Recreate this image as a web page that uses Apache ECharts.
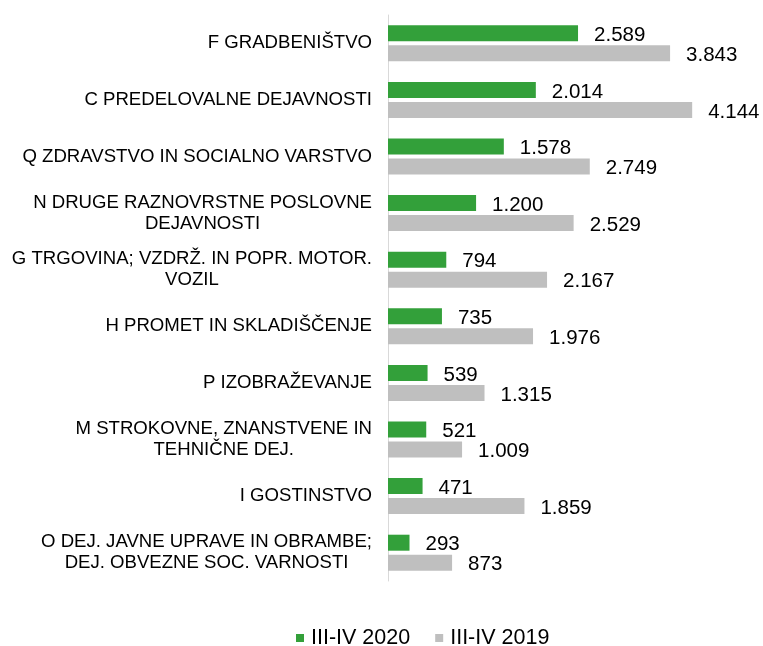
<!DOCTYPE html>
<html>
<head>
<meta charset="utf-8">
<script src="https://cdn.jsdelivr.net/npm/echarts@6/dist/echarts.min.js"></script>
<style>
html,body{margin:0;padding:0;background:#fff;}
#chart{width:763px;height:646px;}
</style>
</head>
<body>
<div id="chart"></div>
<script>
const categories = [
  'F GRADBENIŠTVO',
  'C PREDELOVALNE DEJAVNOSTI',
  'Q ZDRAVSTVO IN SOCIALNO VARSTVO',
  'N DRUGE RAZNOVRSTNE POSLOVNE\nDEJAVNOSTI',
  'G TRGOVINA; VZDRŽ. IN POPR. MOTOR.\nVOZIL',
  'H PROMET IN SKLADIŠČENJE',
  'P IZOBRAŽEVANJE',
  'M STROKOVNE, ZNANSTVENE IN\nTEHNIČNE DEJ.',
  'I GOSTINSTVO',
  'O DEJ. JAVNE UPRAVE IN OBRAMBE;\nDEJ. OBVEZNE SOC. VARNOSTI'
];
const seriesNames = ['III-IV 2020', 'III-IV 2019'];
const values2020 = [2589, 2014, 1578, 1200, 794, 735, 539, 521, 471, 293];
const values2019 = [3843, 4144, 2749, 2529, 2167, 1976, 1315, 1009, 1859, 873];

const FONT = '"Liberation Sans", Arial, sans-serif';
function fmt(v) {
  return String(v).replace(/\B(?=(\d{3})+(?!\d))/g, '.');
}
const chart = echarts.init(document.getElementById('chart'), null, {renderer: 'canvas'});
const labelStyle = {
  show: true,
  position: 'right',
  distance: 16,
  fontSize: 20.5,
  fontFamily: FONT,
  color: '#000',
  offset: [0, 2],
  formatter: p => fmt(p.value)
};
chart.setOption({
  animation: false,
  backgroundColor: '#fff',
  grid: {left: 388, right: 8, top: 15, bottom: 65, containLabel: false},
  xAxis: {
    type: 'value', min: 0, max: 5000,
    axisLine: {show: false}, axisTick: {show: false},
    axisLabel: {show: false}, splitLine: {show: false}
  },
  yAxis: {
    type: 'category',
    inverse: true,
    data: categories,
    axisLine: {show: true, lineStyle: {color: '#d9d9d9', width: 1}},
    axisTick: {show: false},
    axisLabel: {
      margin: 16,
      fontSize: 18.6,
      fontFamily: FONT,
      color: '#000',
      formatter: v => v.split('\n').map(l => '{c|' + l + '}').join('\n'),
      rich: {
        c: {align: 'center', fontSize: 18.6, fontFamily: FONT, color: '#000', lineHeight: 21}
      }
    }
  },
  legend: {
    left: 296,
    top: 627,
    padding: 0,
    icon: 'rect',
    itemWidth: 8,
    itemHeight: 8,
    itemGap: 25,
    textStyle: {fontSize: 21.5, fontFamily: FONT, color: '#000', padding: [0, 0, 0, 2]},
    data: seriesNames
  },
  series: [
    {
      name: seriesNames[0], type: 'bar', data: values2020,
      barWidth: 16, barGap: '25%',
      itemStyle: {color: '#33a03a'},
      label: labelStyle
    },
    {
      name: seriesNames[1], type: 'bar', data: values2019,
      barWidth: 16, barGap: '25%',
      itemStyle: {color: '#bfbfbf'},
      label: labelStyle
    }
  ]
});
</script>
</body>
</html>
